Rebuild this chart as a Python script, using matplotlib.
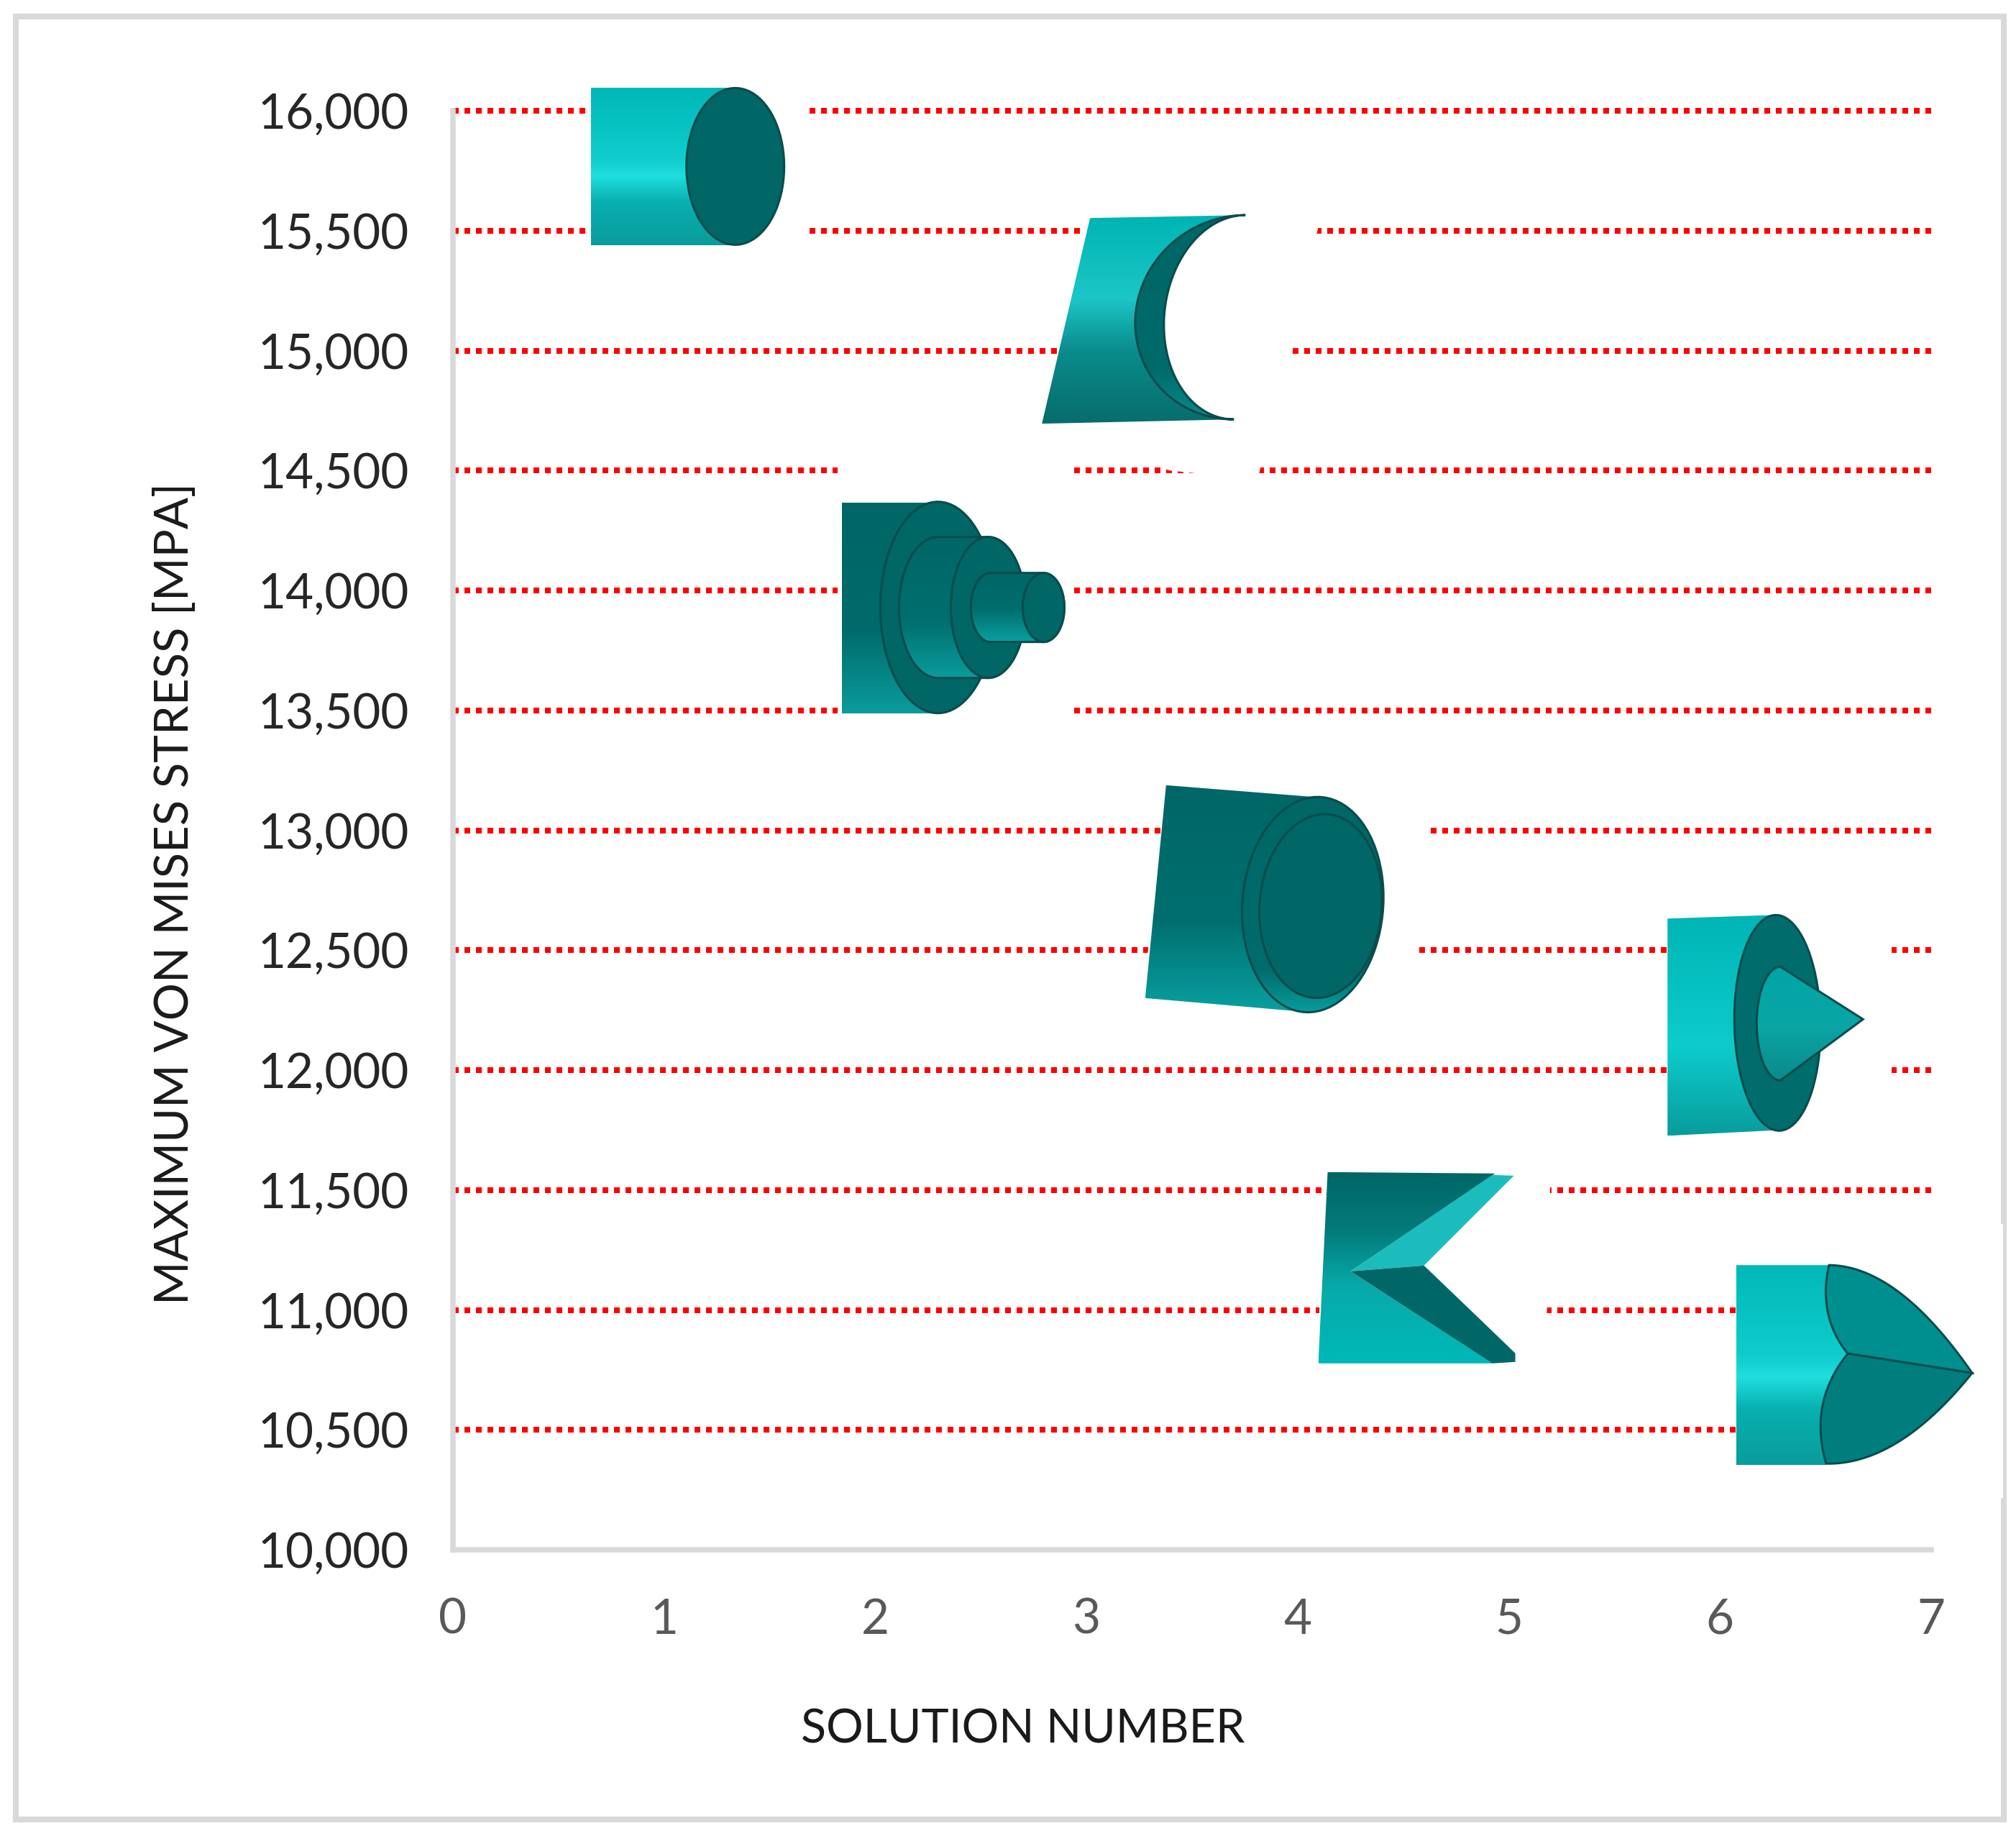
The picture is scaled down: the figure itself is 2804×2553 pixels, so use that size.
import numpy as np
import matplotlib
matplotlib.use("Agg")
import matplotlib.pyplot as plt
from matplotlib.colors import LinearSegmentedColormap
from matplotlib.patches import Polygon, Rectangle

plt.rcParams["font.family"] = ["Lato", "DejaVu Sans"]

# data
solution_no = [1, 2, 3, 4, 5, 6, 7]
max_stress = [15750, 13950, 15100, 12750, 11200, 12200, 10800]
y_ticks = [10000, 10500, 11000, 11500, 12000, 12500, 13000, 13500, 14000, 14500, 15000, 15500, 16000]
y_tick_labels = ["10,000", "10,500", "11,000", "11,500", "12,000", "12,500", "13,000",
                 "13,500", "14,000", "14,500", "15,000", "15,500", "16,000"]
x_ticks = [0, 1, 2, 3, 4, 5, 6, 7]

W, H = 2804, 2553
fig = plt.figure(figsize=(W / 100, H / 100), dpi=100, facecolor="white")

ax = fig.add_axes([630 / W, (H - 2155) / H, 2056 / W, 2001 / H])
ax.set_xlim(0, 7)
ax.set_ylim(10000, 16000)
ax.set_xticks(x_ticks)
ax.set_yticks(y_ticks)
ax.set_yticklabels(y_tick_labels)
ax.tick_params(axis="both", length=0)
ax.tick_params(axis="y", labelsize=48.5, labelcolor="#262626", pad=44)
ax.tick_params(axis="x", labelsize=48.5, labelcolor="#595959", pad=48)
for side in ["top", "right"]:
    ax.spines[side].set_visible(False)
for side in ["left", "bottom"]:
    ax.spines[side].set_color("#d9d9d9")
    ax.spines[side].set_linewidth(5.4)

# red dotted lines, none on the axis itself
for tick in y_ticks[1:]:
    ax.plot([0, 7], [tick, tick], color="#ff0000", linewidth=5.76, linestyle=(0, (1, 1)),
            dash_capstyle="butt", clip_on=False, zorder=1)

ax.set_xlabel("SOLUTION NUMBER", fontsize=46.5, color="#1a1a1a", va="center")
ax.xaxis.set_label_coords(0.3855, -0.125)
ax.set_ylabel("MAXIMUM VON MISES STRESS [MPA]", fontsize=47, color="#1a1a1a", va="center")
ax.yaxis.set_label_coords(-0.188, 0.456)

# overlay in pixel coordinates for the design pictures pasted on the chart
pix = fig.add_axes([0, 0, 1, 1], facecolor="none")
pix.set_xlim(0, W)
pix.set_ylim(H, 0)
pix.set_autoscale_on(False)
pix.axis("off")
pix.add_patch(Rectangle((22, 23), 2765, 2507, fill=False, edgecolor="#d9d9d9", linewidth=5.8))


def ell(cx, cy, a, b, t0, t1, rot=0.0):
    t = np.radians(np.linspace(t0, t1, 80))
    x, y = a * np.cos(t), b * np.sin(t)
    r = np.radians(rot)
    return np.column_stack([cx + x * np.cos(r) - y * np.sin(r), cy + x * np.sin(r) + y * np.cos(r)])


def bez(p0, p1, p2):
    t = np.linspace(0, 1, 40)[:, None]
    return (1 - t) ** 2 * np.array(p0) + 2 * t * (1 - t) * np.array(p1) + t ** 2 * np.array(p2)


def crescent_arc(a):
    t = np.radians(np.linspace(-90, 90, 80))
    y = 442 + 142 * np.sin(t)
    xc = 1733 + (y - 300) * (1717 - 1733) / (584 - 300)
    return np.column_stack([xc - a * np.cos(t), y])


zorder = [5]
EDGE = "#0a4c4c"


def layer(pts, fill, off, edge=True):
    pts = np.asarray(pts, dtype=float) + off
    zorder[0] += 1
    z = zorder[0]
    if isinstance(fill, str):
        pix.add_patch(Polygon(pts, closed=True, facecolor=fill, edgecolor=EDGE if edge else "none",
                              linewidth=2.2, zorder=z))
        return
    cmap = LinearSegmentedColormap.from_list("g", fill)
    x0, y0 = pts.min(axis=0)
    x1, y1 = pts.max(axis=0)
    im = pix.imshow(np.linspace(0, 1, 256)[:, None], extent=(x0, x1, y1, y0), cmap=cmap, aspect="auto",
                    interpolation="bilinear", zorder=z, vmin=0, vmax=1)
    im.set_clip_path(Polygon(pts, closed=True, transform=pix.transData))
    if edge:
        pix.add_patch(Polygon(pts, closed=True, fill=False, edgecolor=EDGE, linewidth=2.2, zorder=z))


DARK = "#006666"
BRIGHT = [(0, "#00b8b8"), (0.45, "#10cccc"), (0.56, "#20dede"), (0.72, "#08b0b0"), (1, "#0a9c9c")]
DEEP = [(0, "#006666"), (0.6, "#006a6a"), (1, "#0a9c9c")]


def icon_plain():
    return [
        ([(817, 115), (1127, 115), (1127, 348), (817, 348)], "white", False),
        ([(823, 123), (1024, 123), (1024, 342), (823, 342)], BRIGHT, False),
        (ell(1024, 232, 68, 109, 0, 360), DARK, True),
    ]


def icon_steps():
    return [
        ([(1166, 640), (1493, 640), (1493, 996), (1166, 996)], "white", False),
        ([(1172, 699), (1305, 699), (1305, 992), (1172, 992)], DEEP, False),
        (ell(1305, 845, 80, 147, 0, 360), DARK, True),
        (np.vstack([ell(1305, 845, 54, 98, 90, 270), ell(1375, 845, 52, 98, -90, 90)]),
         [(0, "#006666"), (0.6, "#006f6f"), (1, "#0a9c9c")], True),
        (ell(1375, 845, 52, 98, 0, 360), DARK, True),
        (np.vstack([ell(1378, 845, 27, 48, 90, 270), ell(1452, 845, 29, 48, -90, 90)]),
         [(0, "#006666"), (0.5, "#006c6c"), (1, "#0aa0a0")], True),
        (ell(1452, 845, 29, 48, 0, 360), DARK, True),
    ]


def icon_crescent():
    inner = crescent_arc(145)
    outer = crescent_arc(105)
    return [
        ([(1520, 268), (1844, 277), (1750, 668), (1627, 655), (1450, 592)], "white", False),
        (np.vstack([[(1517, 304), (1450, 590)], inner[::-1]]),
         [(0, "#00b4b4"), (0.4, "#1cc6c6"), (0.65, "#0a8c8c"), (1, "#086c6c")], False),
        (np.vstack([inner, outer[::-1]]), [(0, DARK), (0.75, "#006a6a"), (1, "#0a8a8a")], True),
    ]


def icon_tilted():
    rot = 4.5
    return [
        ([(1623, 1085), (1996, 1090), (1966, 1418), (1590, 1396)], "white", False),
        ([(1623, 1092), (1850, 1110), (1826, 1408), (1594, 1388)],
         [(0, "#006666"), (0.6, "#006f6f"), (1, "#0aa0a0")], False),
        (ell(1827, 1258, 98, 150, 0, 360, rot), [(0, "#006666"), (0.8, "#006c6c"), (1, "#0a9c9c")], True),
        (ell(1838, 1260, 85, 128, 0, 360, rot), DARK, True),
    ]


def icon_notch():
    lower = bez((1981, 1760), (2075, 1850), (2108, 1882))
    return [
        ([(1842, 1625), (2157, 1630), (2150, 1902), (1833, 1902)], "white", False),
        ([(1847, 1630), (2080, 1632), (1879, 1768), (2076, 1896), (1834, 1896)],
         [(0, "#006666"), (0.3, "#047a7a"), (0.6, "#08aaaa"), (1, "#00b8b8")], False),
        ([(1879, 1768), (2076, 1634), (2106, 1635), (1981, 1760)], "#1cbcbc", False),
        (np.vstack([[(1879, 1768), (1981, 1760)], lower, [(2108, 1894), (2076, 1896)]]), DARK, False),
    ]


def icon_cone():
    rot = -1.0
    return [
        ([(2319, 1270), (2632, 1270), (2632, 1585), (2319, 1585)], "white", False),
        ([(2320, 1278), (2469, 1273), (2477, 1572), (2320, 1580)],
         [(0, "#00b5b5"), (0.6, "#0dcccc"), (1, "#089c9c")], False),
        (ell(2473, 1423, 60, 150, 0, 360, rot), "#006c6c", True),
        (np.vstack([ell(2477, 1424, 33, 79, 90, 270), [(2592, 1418)]]),
         [(0, "#00a5a5"), (0.5, "#0aa6a6"), (1, "#0a8a8a")], True),
    ]


def icon_nose():
    top = bez((2544, 1759), (2640, 1760), (2743, 1909))
    bottom = bez((2743, 1909), (2640, 2037), (2540, 2035))
    base_top = bez((2544, 1759), (2528, 1830), (2570, 1882))
    base_bot = bez((2570, 1882), (2515, 1950), (2540, 2035))
    return [
        ([(2417, 1702), (2786, 1702), (2786, 2083), (2417, 2083)], "white", False),
        ([(2415, 1759), (2544, 1759), (2572, 1882), (2540, 2037), (2415, 2037)], BRIGHT, False),
        (np.vstack([top, [(2570, 1882)], base_top[::-1]]), "#008f8f", True),
        (np.vstack([[(2743, 1909)], bottom, base_bot[::-1]]), "#007e7e", True),
    ]


# (icon, point of the icon's own frame that sits on the data point), one per solution
icons = [
    (icon_plain, (925, 238)),
    (icon_steps, (1218, 838)),
    (icon_crescent, (1512, 455)),
    (icon_tilted, (1806, 1238)),
    (icon_notch, (2099, 1755)),
    (icon_cone, (2393, 1422)),
    (icon_nose, (2686, 1888)),
]

fig.canvas.draw()
to_pix = ax.transData + pix.transData.inverted()
for sol, stress, (icon, ref) in zip(solution_no, max_stress, icons):
    off = to_pix.transform((sol, stress)) - np.array(ref)
    for pts, fill, edge in icon():
        layer(pts, fill, off, edge)

fig.savefig("out.png", dpi=100)
